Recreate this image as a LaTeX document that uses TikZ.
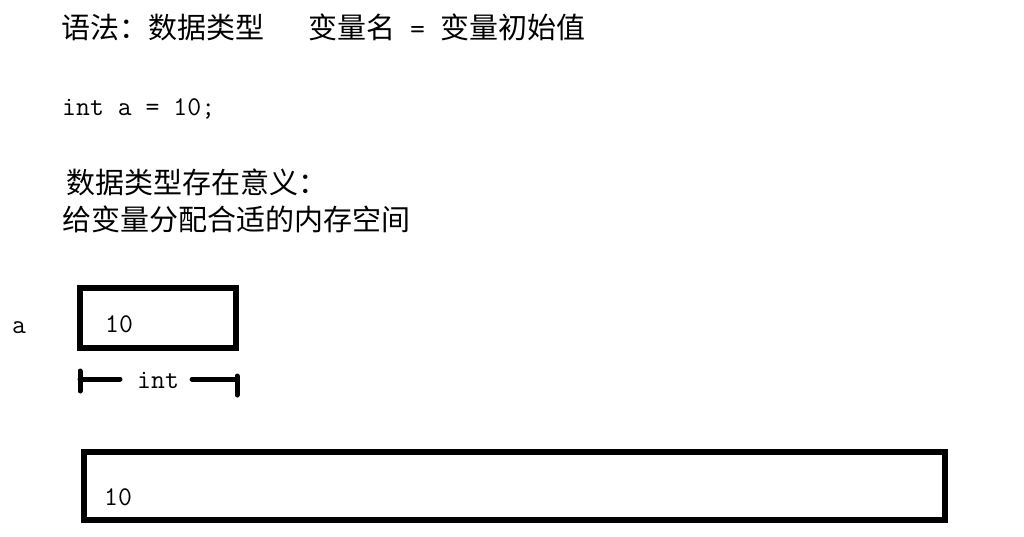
\documentclass[tikz,border=0pt]{standalone}
\usepackage{fontspec}
\usepackage{tikz}
\newfontfamily\cjk{Noto Sans CJK SC}

\begin{document}
\begin{tikzpicture}[x=1pt,y=-1pt,
    cjktext/.style={font=\cjk\fontsize{29}{35}\selectfont,anchor=base west,inner sep=0pt},
    code/.style={font=\ttfamily\fontsize{27}{32}\selectfont,anchor=base west,inner sep=0pt},
    membox/.style={draw,line width=6.5pt,inner sep=0pt},
    bar/.style={line width=5pt,line cap=round}]
    \fill[white] (0,0) rectangle (1024,536);
    \useasboundingbox (0,0) rectangle (1024,536);

    \node[cjktext] (syntax) at (61.5,38) {语法：数据类型};
    \node[cjktext] (init) at (308,38) {变量名{\ttfamily\ =\ }变量初始值};
    \node[code] (decl) at (62,115) {int a = 10;};
    \node[cjktext] (why) at (66,193) {数据类型存在意义：};
    \node[cjktext] (mem) at (62,230) {给变量分配合适的内存空间};

    \node[code] (a) at (12,333) {a};
    \node[membox,minimum width=156pt,minimum height=60pt] (cell) at (158,318) {};
    \node[code] (val) at (105,332) {10};

    \coordinate (lb) at (80,379);
    \coordinate (rb) at (237,379);
    \node[code] (type) at (137,388) {int};
    \draw[bar] ([yshift=-12pt]lb) -- ([yshift=8pt]lb);
    \draw[bar] ([yshift=-16pt]rb) -- ([yshift=3pt]rb);
    \draw[bar] (lb) -- ([xshift=-17pt]lb -| type.west);
    \draw[bar] ([xshift=13pt]rb -| type.east) -- (rb);

    \node[membox,minimum width=861pt,minimum height=68pt] (wide) at (514.5,486) {};
    \node[code] (val2) at (104,505) {10};
\end{tikzpicture}
\end{document}
